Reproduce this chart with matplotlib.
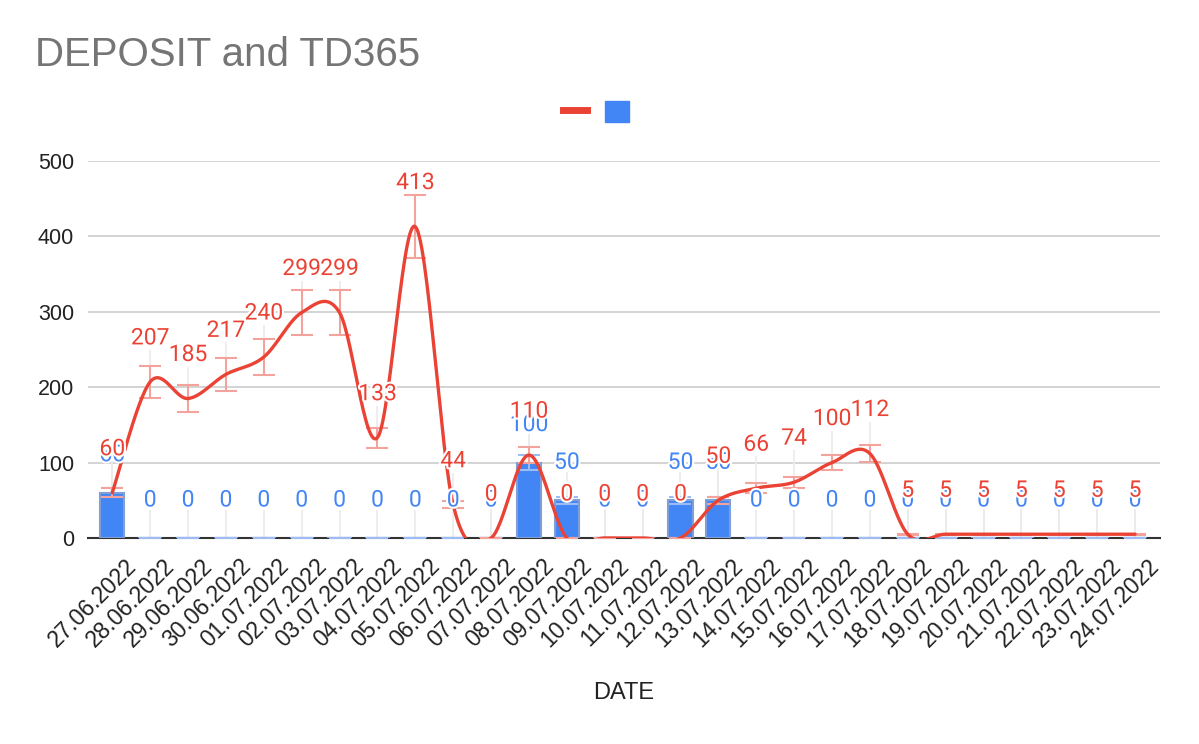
import numpy as np
import matplotlib
matplotlib.use("Agg")
import matplotlib.pyplot as plt
import matplotlib.patheffects as pe
import matplotlib.transforms as mtransforms
from matplotlib.lines import Line2D
from matplotlib.patches import Patch

plt.rcParams['font.family'] = ['Liberation Sans', 'DejaVu Sans']

dates = ["27.06.2022", "28.06.2022", "29.06.2022", "30.06.2022", "01.07.2022",
         "02.07.2022", "03.07.2022", "04.07.2022", "05.07.2022", "06.07.2022",
         "07.07.2022", "08.07.2022", "09.07.2022", "10.07.2022", "11.07.2022",
         "12.07.2022", "13.07.2022", "14.07.2022", "15.07.2022", "16.07.2022",
         "17.07.2022", "18.07.2022", "19.07.2022", "20.07.2022", "21.07.2022",
         "22.07.2022", "23.07.2022", "24.07.2022"]
td365 = [60, 207, 185, 217, 240, 299, 299, 133, 413, 44, 0, 110, 0, 0, 0,
         0, 50, 66, 74, 100, 112, 5, 5, 5, 5, 5, 5, 5]
deposit = [60, 0, 0, 0, 0, 0, 0, 0, 0, 0, 0, 100, 50, 0, 0,
           50, 50, 0, 0, 0, 0, 0, 0, 0, 0, 0, 0, 0]

RED = "#EA4335"
BLUE = "#4285F4"

x = np.arange(len(dates))
red = np.array(td365, dtype=float)
blue = np.array(deposit, dtype=float)

fig = plt.figure(figsize=(11.99, 7.44), dpi=100)
ax = fig.add_axes([0.0734, 0.2769, 0.8941, 0.5067])

# faint leader lines from labels to points
px = 500 / (0.5067 * 744)  # data units per pixel
ax.vlines(x, blue, blue + 28 * px, color="#ebebeb", lw=1.2, zorder=1)
ax.vlines(x, red, red + 32 * px, color="#ebebeb", lw=1.2, zorder=1)

# bars + their error bars
ax.bar(x, blue, width=0.64, color=BLUE, edgecolor="#7f9fd6", linewidth=1.5, zorder=2)
ax.errorbar(x, blue, yerr=0.1 * blue, fmt="none", ecolor="#9dbcf5",
            elinewidth=1.5, capsize=8, capthick=1.5, zorder=3)

# smooth line (catmull-rom through the points)
pts = np.column_stack([x, red])
ext = np.vstack([pts[0], pts, pts[-1]])
cx, cy = [], []
t = np.linspace(0, 1, 30)
for i in range(len(pts) - 1):
    p0, p1, p2, p3 = ext[i], ext[i + 1], ext[i + 2], ext[i + 3]
    for tt in t:
        c = 0.5 * ((2 * p1) + (-p0 + p2) * tt + (2 * p0 - 5 * p1 + 4 * p2 - p3) * tt ** 2
                   + (-p0 + 3 * p1 - 3 * p2 + p3) * tt ** 3)
        cx.append(c[0]); cy.append(c[1])
ax.plot(cx, cy, color=RED, linewidth=2.4, zorder=5, solid_capstyle="round")
ax.errorbar(x, red, yerr=0.1 * red, fmt="none", ecolor="#f4a39c",
            elinewidth=1.5, capsize=8, capthick=1.5, zorder=4)

halo = [pe.withStroke(linewidth=3, foreground="white")]
for xi, v in zip(x, blue):
    ax.annotate(str(int(v)), (xi, v), xytext=(0, 38), textcoords="offset pixels",
                ha="center", va="center", fontsize=16.5, color=BLUE, zorder=6,
                family="Roboto", path_effects=halo, annotation_clip=False)
for xi, v in zip(x, red):
    ax.annotate(str(int(v)), (xi, v), xytext=(0, 44), textcoords="offset pixels",
                ha="center", va="center", fontsize=16.5, color=RED, zorder=7,
                family="Roboto", path_effects=halo, annotation_clip=False)

ax.set_xlim(-0.64, 27.66)
ax.set_ylim(0, 500)
ax.set_yticks([0, 100, 200, 300, 400, 500])
ax.yaxis.grid(True, color="#cccccc", linewidth=1.2)
ax.set_axisbelow(True)
for s in ["top", "right", "left"]:
    ax.spines[s].set_visible(False)
ax.spines["bottom"].set_color("#333333")
ax.spines["bottom"].set_linewidth(1.5)
ax.spines["bottom"].set_zorder(1)
ax.tick_params(axis="both", length=0, colors="#222222")
ax.tick_params(axis="y", pad=10, labelsize=15.5)
ax.tick_params(axis="x", pad=12)
ax.set_xticks(x)
ax.set_xticklabels(dates, rotation=45, ha="right", va="top",
                   rotation_mode="anchor", fontsize=16.5)
shift = mtransforms.ScaledTranslation(13 / 100, 0, fig.dpi_scale_trans)
for lab in ax.get_xticklabels():
    lab.set_transform(lab.get_transform() + shift)

fig.text(0.52, 1 - 699 / 744, "DATE", fontsize=17, color="#222222",
         ha="center", va="baseline")
fig.text(35 / 1199, 1 - 66 / 744, "DEPOSIT and TD365", fontsize=29,
         color="#757575", va="baseline")
handles = [Line2D([0], [0], color=RED, linewidth=5),
           Patch(facecolor=BLUE, edgecolor=BLUE)]
fig.legend(handles, ["", ""], loc="center", bbox_to_anchor=(0.499, 0.849), ncol=2,
           frameon=False, fontsize=16, handlelength=1.1, handleheight=1.1,
           handletextpad=0.2, columnspacing=0.6)

fig.savefig("out.png", dpi=100)
